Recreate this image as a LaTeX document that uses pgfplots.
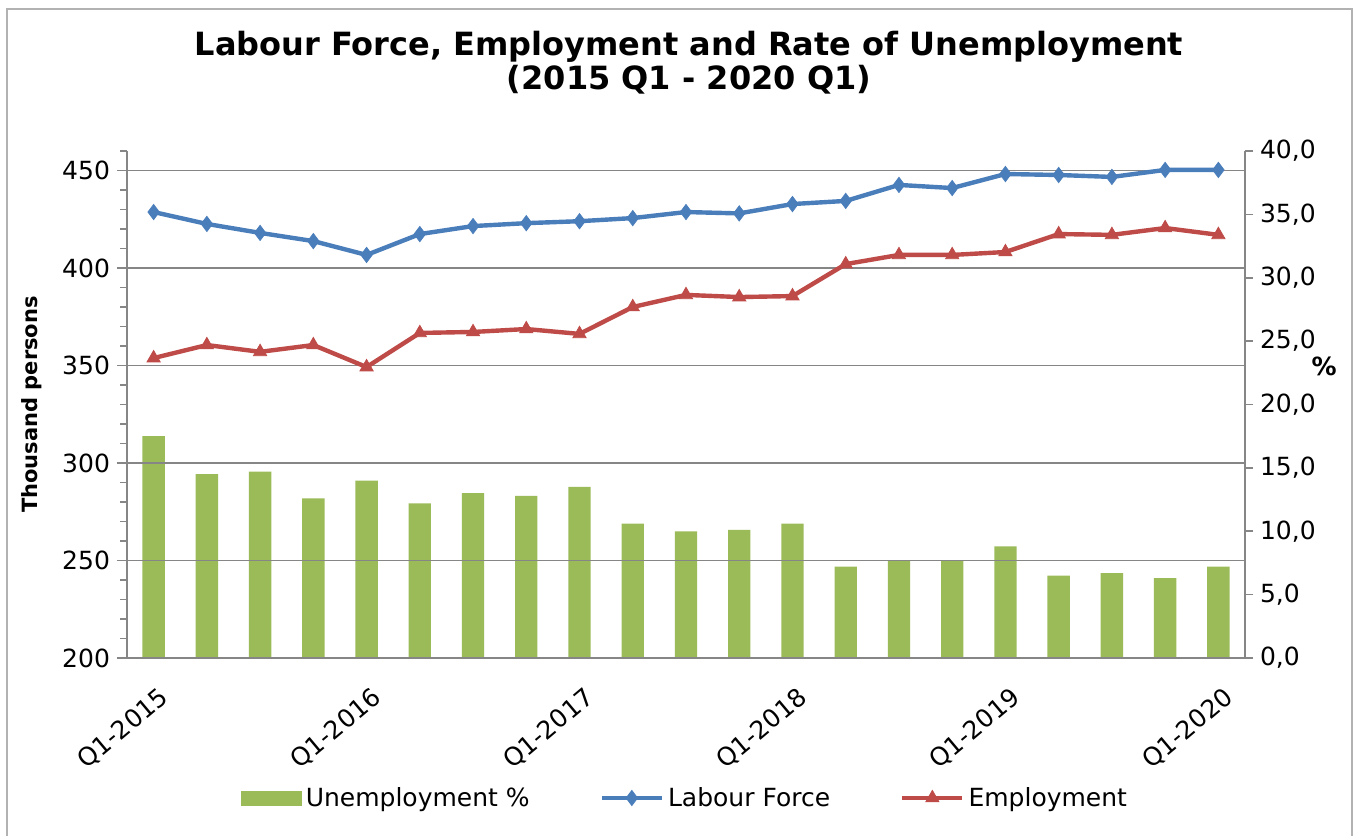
\documentclass[border=0pt]{standalone}
\usepackage{pgfplots}
\pgfplotsset{compat=1.18}
\usepackage{fontspec}
\setmainfont{DejaVu Sans}

\definecolor{lfblue}{HTML}{4A7EBB}
\definecolor{empred}{HTML}{BE4B48}
\definecolor{unemgreen}{HTML}{9BBB59}
\definecolor{axgray}{HTML}{868686}

% quarter index, labour force, employment (thousand), unemployment rate (%)
\pgfplotstableread{
q  lf     emp    un
0  428.7  353.8  17.5
1  422.6  360.5  14.5
2  418.0  357.0  14.7
3  413.8  360.5  12.6
4  406.7  349.2  14.0
5  417.4  366.7  12.2
6  421.5  367.2  13.0
7  423.0  368.7  12.8
8  424.0  366.2  13.5
9  425.6  380.0  10.6
10 428.7  386.2  10.0
11 428.0  385.1  10.1
12 432.8  385.6  10.6
13 434.4  402.0  7.2
14 442.6  406.7  7.7
15 441.0  406.7  7.7
16 448.2  408.2  8.8
17 447.7  417.4  6.5
18 446.7  417.0  6.7
19 450.3  420.5  6.3
20 450.3  417.0  7.2
}\datatable

\pgfplotsset{
  base/.style={
    scale only axis, width=559pt, height=253.5pt,
    at={(0pt,0pt)}, anchor=south west,
    xmin=-0.5, xmax=20.5,
    axis line style={axgray, line width=0.8pt},
    tick style={axgray, line width=0.8pt},
    tick align=outside,
    /pgf/number format/assume math mode=true,
  },
  wideline/.style={legend image code/.code={%
    \draw[mark repeat=2,mark phase=2,##1] plot coordinates {(0pt,0pt)(15pt,0pt)(30pt,0pt)};}},
  widebar/.style={legend image code/.code={%
    \fill[unemgreen] (0pt,-3.5pt) rectangle (30pt,3.5pt);}},
}

\begin{document}
\begin{tikzpicture}[font=\fontsize{12.5}{15}\selectfont]
\useasboundingbox (-63.5pt,-89pt) rectangle (614.5pt,329pt);
\draw[gray!60, line width=1pt] (-60pt,-95pt) -- (-60pt,324.5pt) -- (612.5pt,324.5pt) -- (612.5pt,-95pt);

\node[align=center, font=\fontsize{16}{17}\selectfont\bfseries] at (281pt,297.5pt)
  {Labour Force, Employment and Rate of Unemployment\\(2015 Q1 - 2020 Q1)};

% unemployment bars on the right axis
\begin{axis}[
  base,
  axis y line*=right,
  axis x line=none,
  ymin=0, ymax=40,
  ytick={0,5,...,40},
  major tick length=4pt,
  yticklabel style={/pgf/number format/.cd, fixed, fixed zerofill, precision=1, use comma},
  ylabel={\%},
  ylabel style={at={(axis description cs:1.0707,0.576)}, anchor=center, rotate=-90, font=\fontsize{12.5}{15}\selectfont\bfseries},
]
\addplot[ybar, bar width=0.42, fill=unemgreen, draw=none] table[x=q, y=un]{\datatable};
\end{axis}

% labour force and employment on the left axis
\begin{axis}[
  base,
  axis y line*=left,
  axis x line*=bottom,
  ymin=200, ymax=460,
  ytick={200,250,...,450},
  minor ytick={210,220,...,460},
  major tick length=5pt,
  minor tick length=3.3pt,
  ymajorgrids=true,
  grid style={axgray, line width=0.8pt},
  xtick={0,4,...,20},
  xticklabels={Q1-2015,Q1-2016,Q1-2017,Q1-2018,Q1-2019,Q1-2020},
  x tick style={draw=none},
  extra x ticks={-0.5,0.5,...,20.5},
  extra x tick labels={},
  extra x tick style={grid=none, major tick length=3pt, tick style={axgray, line width=0.8pt}},
  xticklabel style={rotate=40, anchor=north east, inner sep=1pt, xshift=-3pt, yshift=-7pt},
  ylabel={Thousand persons},
  ylabel style={at={(axis description cs:-0.085,0.5)}, anchor=center, font=\fontsize{10.5}{12}\selectfont\bfseries},
  legend columns=3,
  legend style={at={(0.5,0)}, anchor=center, yshift=-70pt, xshift=0pt, draw=none, fill=none,
    /tikz/every even column/.append style={column sep=33pt}},
  legend cell align=left,
]
\addlegendimage{widebar}
\addplot[lfblue, line width=2.2pt, mark=diamond*, mark size=3.8pt,
  mark options={solid, line width=0.4pt, fill=lfblue}, wideline]
  table[x=q, y=lf]{\datatable};
\addplot[empred, line width=2.2pt, mark=triangle*, mark size=3.8pt,
  mark options={solid, line width=0.4pt, fill=empred}, wideline]
  table[x=q, y=emp]{\datatable};
\legend{Unemployment \%, Labour Force, Employment}
\end{axis}
\end{tikzpicture}
\end{document}
